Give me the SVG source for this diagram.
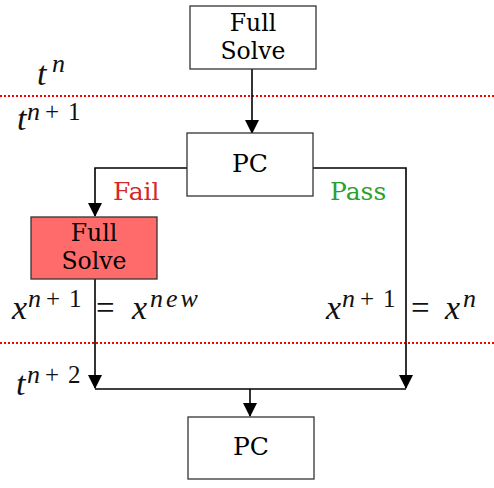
<svg xmlns="http://www.w3.org/2000/svg" width="494" height="488" viewBox="0 0 494 488">
<defs>
<marker id="ah" markerWidth="14" markerHeight="14" viewBox="0 0 14 14" refX="13" refY="7" orient="auto" markerUnits="userSpaceOnUse"><path d="M0,0 L14,7 L0,14 Z" fill="#000"/></marker>
<style>
.box{fill:#fff;stroke:#333;stroke-width:1.3}
.red{fill:#ff6b6b}
.lbl{font-family:"DejaVu Serif","Liberation Serif",serif;font-size:23.5px;fill:#000;text-anchor:middle}
.pc{font-family:"DejaVu Serif","Liberation Serif",serif;font-size:25px;fill:#000;text-anchor:middle}
.m{font-family:"Liberation Serif","DejaVu Serif",serif;font-style:italic;font-size:34px;fill:#111}
.s{font-family:"Liberation Serif","DejaVu Serif",serif;font-style:italic;font-size:26px;fill:#111}
.u{font-family:"Liberation Serif","DejaVu Serif",serif;font-size:25px;fill:#111}
.eq{font-family:"Liberation Serif","DejaVu Serif",serif;font-size:33px;fill:#111}
.c{fill:none;stroke:#000;stroke-width:1.6}
.dot{stroke:#ff0000;stroke-width:2;stroke-dasharray:2 2}
</style>
</defs>
<line class="dot" x1="0" y1="96" x2="494" y2="96"/>
<line class="dot" x1="0" y1="343" x2="494" y2="343"/>
<g id="connectors">
<path class="c" d="M252,69 V133" marker-end="url(#ah)"/>
<path class="c" d="M187,168 H95 V216" marker-end="url(#ah)"/>
<path class="c" d="M313,168 H406 V388" marker-end="url(#ah)"/>
<path class="c" d="M95,279 V388" marker-end="url(#ah)"/>
<path class="c" d="M95,389 H406"/>
<path class="c" d="M250,389 V416" marker-end="url(#ah)"/>
</g>
<g id="fullsolve1"><rect class="box" x="190" y="6" width="126" height="63"/><text class="lbl" x="253" y="31">Full</text><text class="lbl" x="253" y="59">Solve</text></g>
<g id="pc1"><rect class="box" x="187" y="133" width="126" height="63"/><text class="pc" x="250" y="172">PC</text></g>
<g id="fullsolve2"><rect class="box red" x="31" y="217" width="126" height="62"/><text class="lbl" x="94" y="241">Full</text><text class="lbl" x="94" y="269">Solve</text></g>
<g id="pc2"><rect class="box" x="188" y="417" width="126" height="62"/><text class="pc" x="251" y="455">PC</text></g>
<text x="113" y="200" font-family="DejaVu Serif, serif" font-size="25" fill="#d62728">Fail</text>
<text x="330" y="200" font-family="DejaVu Serif, serif" font-size="25" fill="#2ca02c">Pass</text>
<g id="labels">
<text class="m" x="37" y="85">t</text><text class="s" x="52" y="72">n</text>
<text class="m" x="17" y="130">t</text><text class="s" x="27" y="120">n</text><text class="u" x="45" y="120">+</text><text class="u" x="68" y="120">1</text>
<text class="m" x="16" y="395">t</text><text class="s" x="27" y="383">n</text><text class="u" x="45" y="383">+</text><text class="u" x="68" y="383">2</text>
<text class="m" x="12" y="319">x</text><text class="s" x="28" y="307">n</text><text class="u" x="46" y="307">+</text><text class="u" x="69" y="307">1</text>
<text class="eq" x="96" y="319">=</text><text class="m" x="132" y="319">x</text><text class="s" x="150" y="307" letter-spacing="3">new</text>
<text class="m" x="326" y="319">x</text><text class="s" x="342" y="307">n</text><text class="u" x="360" y="307">+</text><text class="u" x="383" y="307">1</text>
<text class="eq" x="411" y="319">=</text><text class="m" x="445" y="319">x</text><text class="s" x="463" y="307">n</text>
</g>
</svg>
